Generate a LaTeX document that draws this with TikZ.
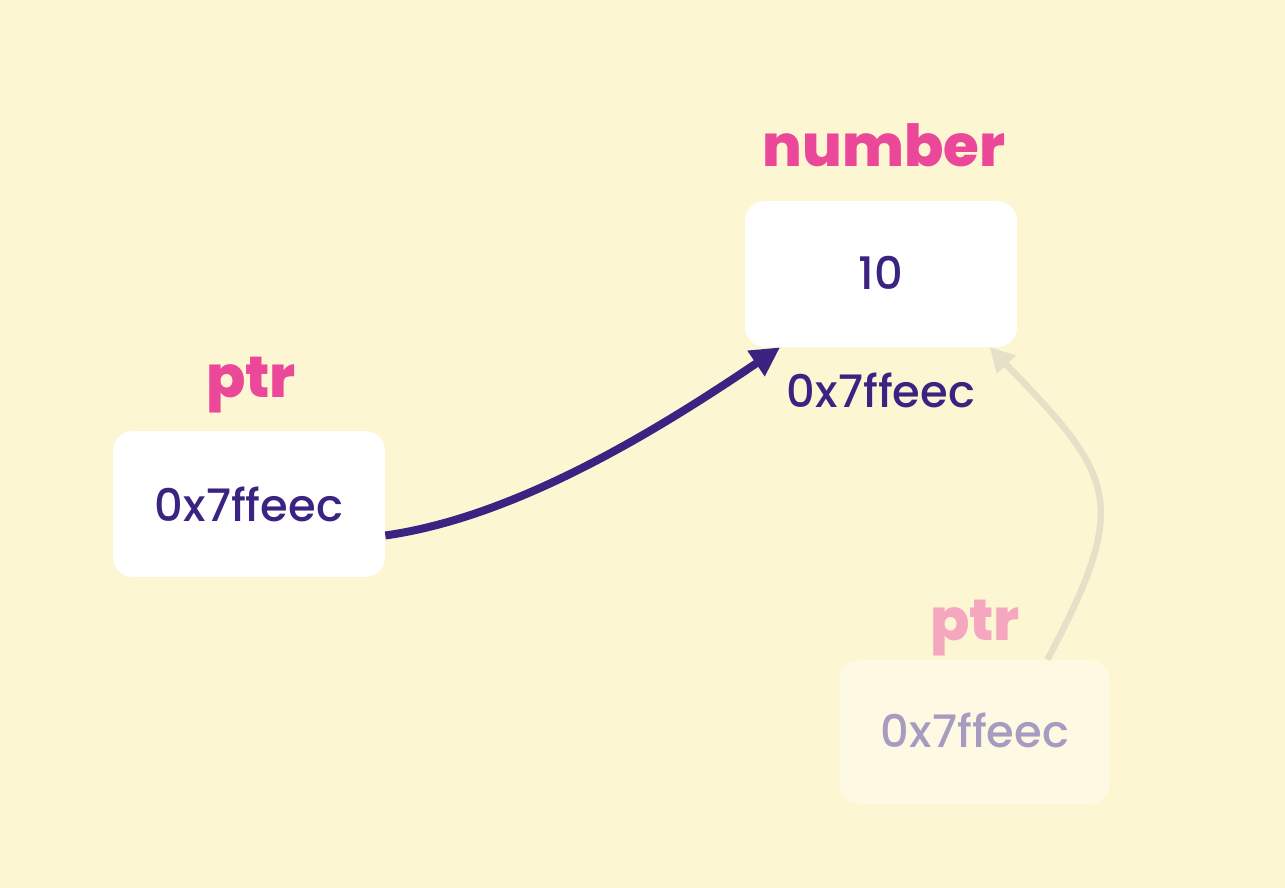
\documentclass[tikz,border=0pt]{standalone}
\usepackage{fontspec}
\usepackage{tikz}
\usetikzlibrary{arrows.meta}
\setmainfont{Poppins}
\newfontfamily\valfont{Poppins Medium}
\newfontfamily\labfont{Poppins ExtraBold}
\definecolor{bg}{HTML}{FDF6D3}
\definecolor{pinklab}{HTML}{EC4899}
\definecolor{deep}{HTML}{3B2382}
\definecolor{ghostbox}{HTML}{FEF9E3}
\definecolor{ghosttext}{HTML}{A89BC2}
\definecolor{ghostpink}{HTML}{F4A7BF}
\definecolor{ghostline}{HTML}{E6E0C8}

\begin{document}
\begin{tikzpicture}[x=0.02cm,y=-0.02cm,
    cell/.style={fill=white,rounded corners=0.4cm,minimum width=5.44cm,minimum height=2.92cm},
    lab/.style={anchor=base,inner sep=0pt,text=pinklab,font=\labfont\fontsize{33}{39}\selectfont},
    val/.style={anchor=base,inner sep=0pt,text=deep,font=\valfont\fontsize{25.5}{31}\selectfont}]
    \fill[bg] (0,0) rectangle (1285,888);
    % boxes
    \node[cell] (num) at (881,274) {};
    \node[cell] (ptr) at (249,504) {};
    \node[cell,fill=ghostbox,minimum width=5.4cm,minimum height=2.88cm] (ghost) at (975,732) {};
    % texts
    \node[lab] (numlab) at (884,167) {number};
    \node[lab] (ptrlab) at (251,398) {ptr};
    \node[lab,text=ghostpink] (ghostlab) at (975,640) {ptr};
    \node[val] (numval) at (881,290) {10};
    \node[val] (numaddr) at (881,408) {0x7ffeec};
    \node[val] (ptrval) at (249,521) {0x7ffeec};
    \node[val,text=ghosttext] (ghostval) at (975,747) {0x7ffeec};
    % arrows
    \draw[-{Triangle[length=0.58cm,width=0.58cm]},line width=0.16cm,deep] (ptr.-13) to[out=8,in=-146,looseness=0.8] (num.216);
    \draw[-{Triangle[length=0.48cm,width=0.5cm]},line width=0.13cm,ghostline] (ghost.45) to[out=62,in=-46,looseness=1.45] (num.-34);
\end{tikzpicture}
\end{document}
